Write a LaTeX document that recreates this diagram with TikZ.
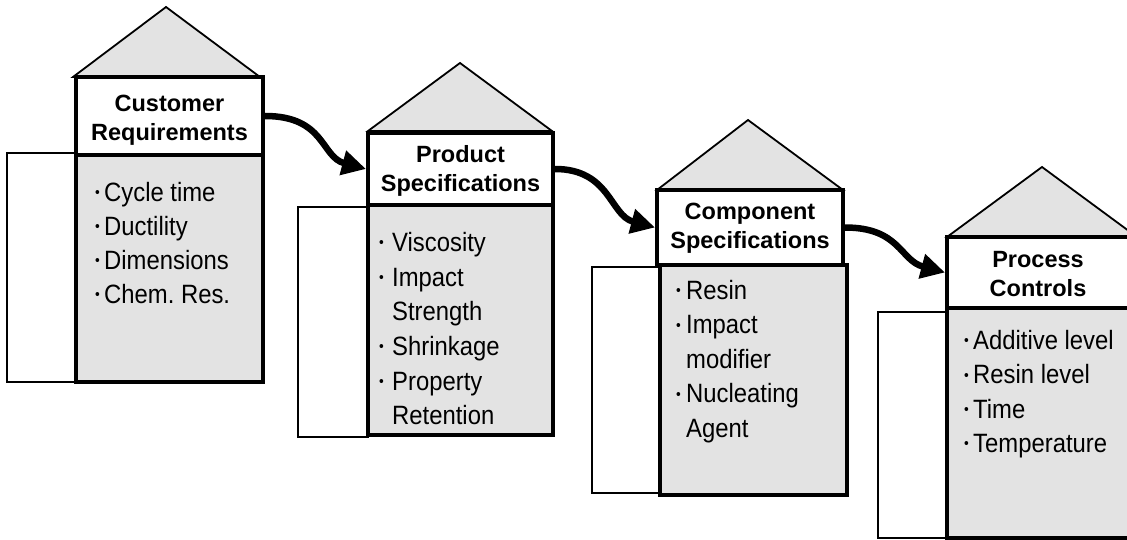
\documentclass[tikz,border=0pt]{standalone}
\usepackage{fontspec}
\setmainfont{Liberation Sans}
\newfontfamily\narrowfont[FakeStretch=0.9]{Liberation Sans}
\usetikzlibrary{arrows.meta}
\definecolor{boxgray}{HTML}{E3E3E3}
\newcommand\bul[1]{\makebox[#1][l]{\raisebox{0.26ex}{\fontsize{15}{15}\selectfont •}}}
\tikzset{
  backrect/.style={draw, fill=white, line width=2.5pt},
  roof/.style={draw, fill=boxgray, line width=1.8pt, line join=miter},
  bodybox/.style={draw, fill=boxgray, line width=4pt},
  headbox/.style={draw, fill=white, line width=4pt, inner sep=0pt},
  headtxt/.style={inner sep=0pt, font=\bfseries\fontsize{23.5}{29}\selectfont, align=center},
  listtxt/.style={inner sep=0pt, anchor=north west, align=left},
  flow/.style={line width=6.5pt, -{Triangle[length=24pt,width=24pt]}}
}
\begin{document}
\begin{tikzpicture}[x=1pt,y=-1pt]
\useasboundingbox (0,0) rectangle (1127,540);
\clip (0,0) rectangle (1127,540);

% Column 1
\draw[backrect] (7,153) rectangle (76,382);
\draw[roof] (73,77) -- (166,7) -- (260,77) -- cycle;
\draw[bodybox] (76,155) rectangle (263,382);
\node[headbox, minimum width=187pt, minimum height=78pt] (h1) at (169.5,116) {};
\node[headtxt] (t1) at ([yshift=-4pt]h1.center) {Customer\\Requirements};
\node[listtxt, font=\narrowfont\fontsize{26.5}{34}\selectfont] (l1) at (95,182)
  {\bul{9pt}Cycle time\\ \bul{9pt}Ductility\\ \bul{9pt}Dimensions\\ \bul{9pt}Chem.\ Res.};

% Column 2
\draw[backrect] (298,207) rectangle (368,437);
\draw[roof] (368,131) -- (460,63) -- (552,131) -- cycle;
\draw[bodybox] (368,205) rectangle (553,435);
\node[headbox, minimum width=185pt, minimum height=72pt] (h2) at (460.5,169) {};
\node[headtxt] (t2) at ([yshift=-2pt]h2.center) {Product\\Specifications};
\node[listtxt, font=\narrowfont\fontsize{26.5}{34.7}\selectfont] (l2) at (379,232)
  {\bul{13pt}Viscosity\\ \bul{13pt}Impact\\ \hspace*{13pt}Strength\\ \bul{13pt}Shrinkage\\ \bul{13pt}Property\\ \hspace*{13pt}Retention};

% Column 3
\draw[backrect] (592,267) rectangle (660,493);
\draw[roof] (657,190) -- (748,120) -- (843,190) -- cycle;
\draw[bodybox] (660,265) rectangle (847,495);
\node[headbox, minimum width=186pt, minimum height=75pt] (h3) at (750,227.5) {};
\node[headtxt] (t3) at ([yshift=-1pt]h3.center) {Component\\Specifications};
\node[listtxt, font=\narrowfont\fontsize{26.5}{34.5}\selectfont] (l3) at (676,280)
  {\bul{10pt}Resin\\ \bul{10pt}Impact\\ \hspace*{10pt}modifier\\ \bul{10pt}Nucleating\\ \hspace*{10pt}Agent};

% Column 4
\draw[backrect] (878,312) rectangle (947,538);
\draw[roof] (947,237) -- (1042,167) -- (1137,237) -- cycle;
\draw[bodybox] (947,308) rectangle (1137,538);
\node[headbox, minimum width=190pt, minimum height=71pt] (h4) at (1042,272.5) {};
\node[headtxt] (t4) at ([xshift=-4pt,yshift=-2pt]h4.center) {Process\\Controls};
\node[listtxt, font=\narrowfont\fontsize{26.5}{34.3}\selectfont] (l4) at (964,330)
  {\bul{9pt}Additive level\\ \bul{9pt}Resin level\\ \bul{9pt}Time\\ \bul{9pt}Temperature};

% Connectors
\draw[flow] (h1.east) .. controls +(60,0) and +(-45,-12) .. (h2.west);
\draw[flow] (h2.east) .. controls +(55,0) and +(-45,-12) .. (h3.west);
\draw[flow] (h3.east) .. controls +(55,0) and +(-45,-12) .. (h4.west);
\end{tikzpicture}
\end{document}
